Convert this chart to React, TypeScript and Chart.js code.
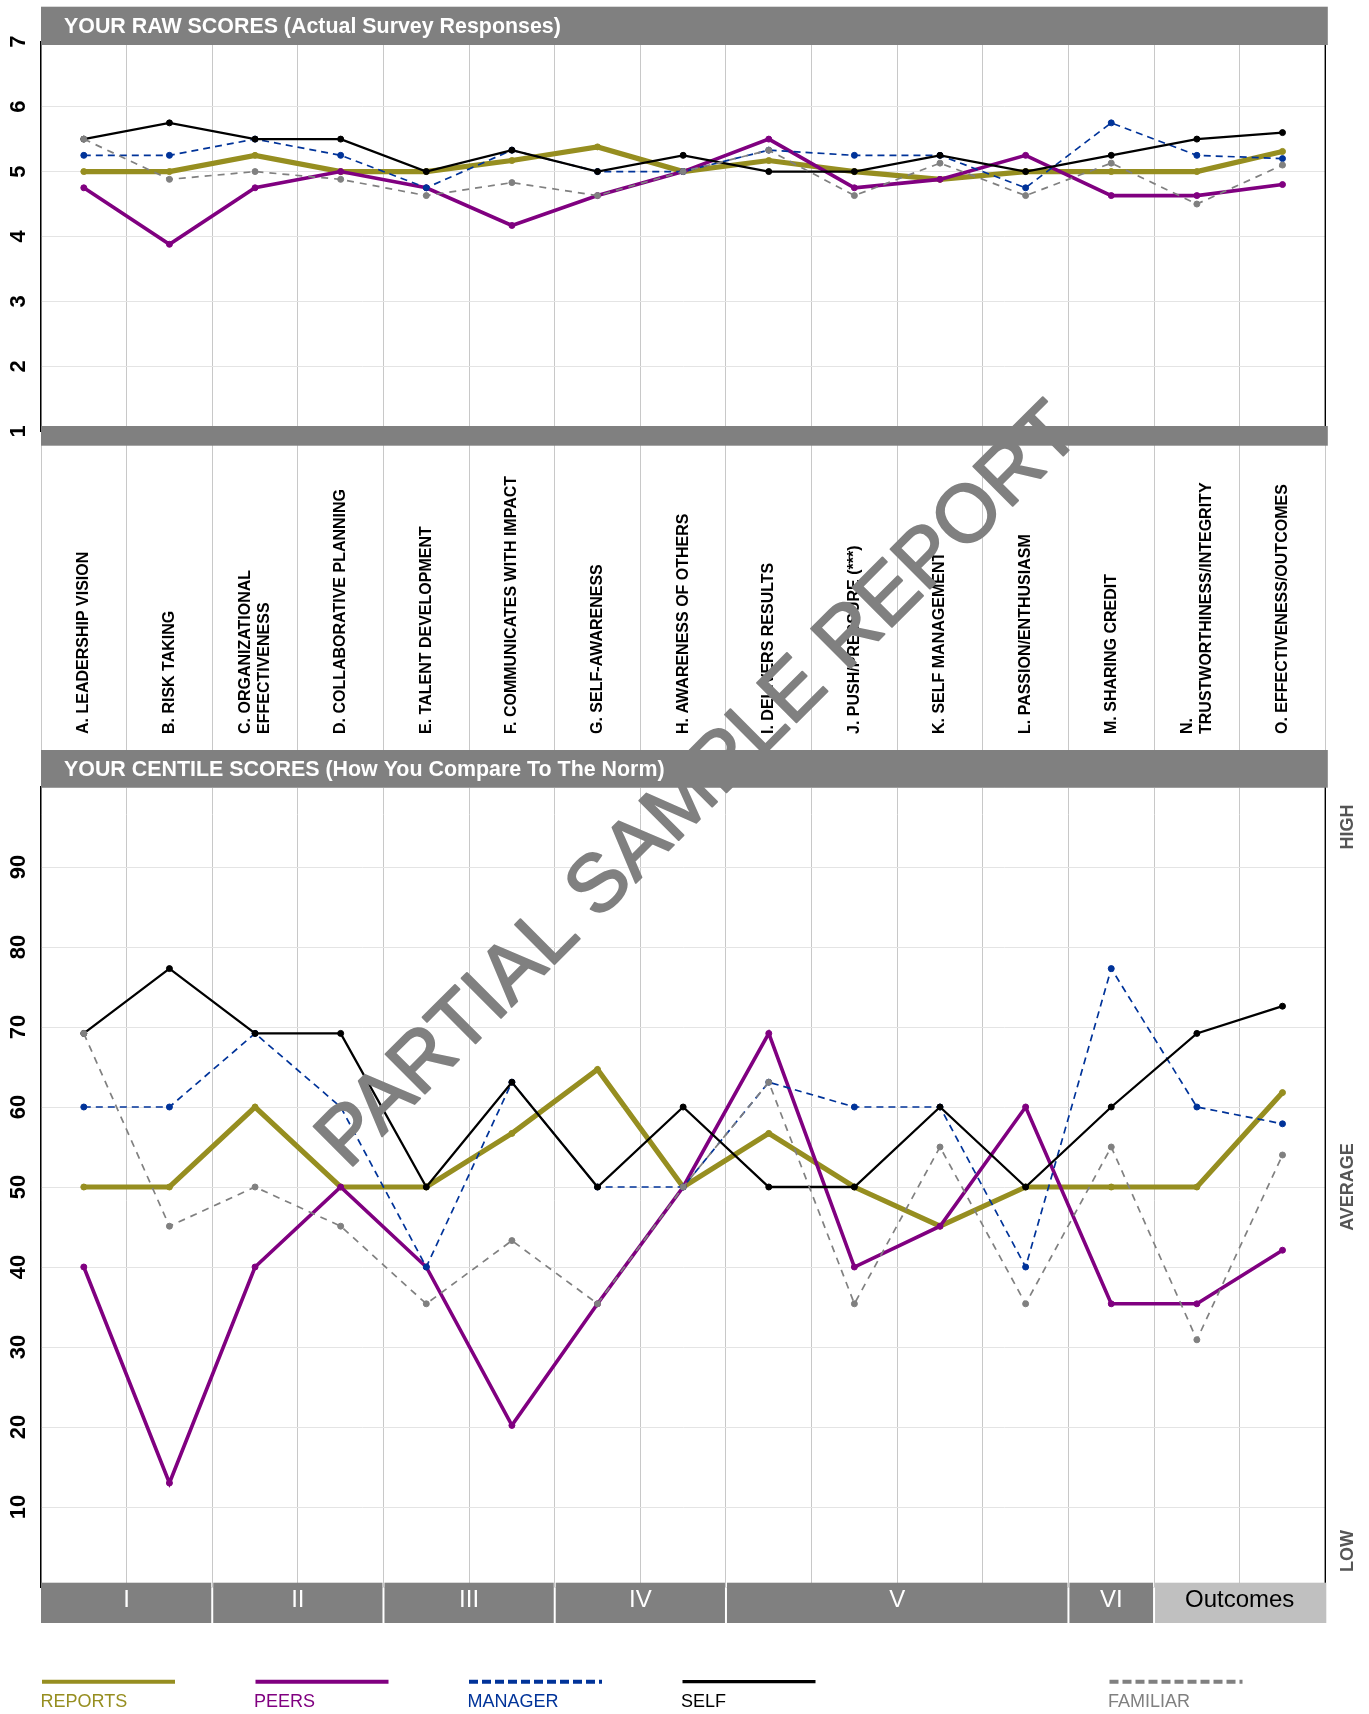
import React, { useEffect, useRef } from 'react';
import { Chart, registerables } from 'chart.js';

Chart.register(...registerables);

// ---------- data ----------
const CATEGORIES: string[][] = [
  ['A. LEADERSHIP VISION'],
  ['B. RISK TAKING'],
  ['C. ORGANIZATIONAL', 'EFFECTIVENESS'],
  ['D. COLLABORATIVE PLANNING'],
  ['E. TALENT DEVELOPMENT'],
  ['F. COMMUNICATES WITH IMPACT'],
  ['G. SELF-AWARENESS'],
  ['H. AWARENESS OF OTHERS'],
  ['I. DELIVERS RESULTS'],
  ['J. PUSH/PRESSURE (***)'],
  ['K. SELF MANAGEMENT'],
  ['L. PASSION/ENTHUSIASM'],
  ['M. SHARING CREDIT'],
  ['N.', 'TRUSTWORTHINESS/INTEGRITY'],
  ['O. EFFECTIVENESS/OUTCOMES'],
];

const REPORTS_RAW = [5, 5, 5.25, 5, 5, 5.17, 5.38, 5, 5.17, 5, 4.88, 5, 5, 5, 5.31];
const PEERS_RAW = [4.75, 3.88, 4.75, 5, 4.75, 4.17, 4.63, 5, 5.5, 4.75, 4.88, 5.25, 4.63, 4.63, 4.8];
const MANAGER_RAW = [5.25, 5.25, 5.5, 5.25, 4.75, 5.33, 5, 5, 5.33, 5.25, 5.25, 4.75, 5.75, 5.25, 5.2];
const SELF_RAW = [5.5, 5.75, 5.5, 5.5, 5, 5.33, 5, 5.25, 5, 5, 5.25, 5, 5.25, 5.5, 5.6];
const FAMILIAR_RAW = [5.5, 4.88, 5, 4.88, 4.63, 4.83, 4.63, 5, 5.33, 4.63, 5.13, 4.63, 5.13, 4.5, 5.1];

const REPORTS_CENT = [50, 50, 60, 50, 50, 56.7, 64.7, 50, 56.7, 50, 45.1, 50, 50, 50, 61.8];
const PEERS_CENT = [40, 13, 40, 50, 40, 20.2, 35.4, 50, 69.2, 40, 45.1, 60, 35.4, 35.4, 42.1];
const MANAGER_CENT = [60, 60, 69.2, 60, 40, 63.1, 50, 50, 63.1, 60, 60, 40, 77.3, 60, 57.9];
const SELF_CENT = [69.2, 77.3, 69.2, 69.2, 50, 63.1, 50, 60, 50, 50, 60, 50, 60, 69.2, 72.6];
const FAMILIAR_CENT = [69.2, 45.1, 50, 45.1, 35.4, 43.3, 35.4, 50, 63.1, 35.4, 55, 35.4, 55, 30.9, 54];

const SERIES_NAMES = ['REPORTS', 'PEERS', 'MANAGER', 'SELF', 'FAMILIAR'];
const RAW_SERIES = [REPORTS_RAW, PEERS_RAW, MANAGER_RAW, SELF_RAW, FAMILIAR_RAW];
const CENT_SERIES = [REPORTS_CENT, PEERS_CENT, MANAGER_CENT, SELF_CENT, FAMILIAR_CENT];

const RAW_TICK_LABELS = [1, 2, 3, 4, 5, 6, 7];
const CENT_TICK_LABELS = [10, 20, 30, 40, 50, 60, 70, 80, 90];

const GROUP_LABELS = ['I', 'II', 'III', 'IV', 'V', 'VI', 'Outcomes'];
const GROUP_SPANS = [2, 2, 2, 2, 4, 1, 2];

const RIGHT_LABELS = ['HIGH', 'AVERAGE', 'LOW'];
const RIGHT_LABEL_VALUES = [95, 50, 4.5];

const HEADER_RAW = 'YOUR RAW SCORES (Actual Survey Responses)';
const HEADER_CENT = 'YOUR CENTILE SCORES (How You Compare To The Norm)';
const WATERMARK = 'PARTIAL SAMPLE REPORT';

// ---------- styles ----------
const COLORS = ['#968E20', '#800080', '#003399', '#000000', '#808080'];
const WIDTHS = [5.2, 3.6, 1.7, 2.3, 1.7];
const DASHES: number[][] = [[], [], [7, 5], [], [7, 6]];
const LEGEND_SLOTS = [0, 1, 2, 3, 5];
const DRAW_ORDER = [4, 3, 2, 1, 0]; // first = on top

const FONT = '"Liberation Sans", Arial, Helvetica, sans-serif';
const BAR_GRAY = '#808080';

function rotText(ctx: CanvasRenderingContext2D, text: string, x: number, y: number, align: CanvasTextAlign) {
  ctx.save();
  ctx.translate(x, y);
  ctx.rotate(-Math.PI / 2);
  ctx.textAlign = align;
  ctx.textBaseline = 'middle';
  ctx.fillText(text, 0, 0);
  ctx.restore();
}

const decorPlugin = {
  id: 'decor',
  afterDraw(chart: any) {
    const { ctx, chartArea, scales } = chart;
    const xs = scales.x;
    const yR = scales.yRaw;
    const yC = scales.yCent;
    const n = CATEGORIES.length;
    const cw = (chartArea.right - chartArea.left) / n;
    const bound = (i: number) => xs.getPixelForValue(0) - cw / 2 + i * cw;
    const L = chartArea.left;
    const R = chartArea.right;

    ctx.save();
    // right borders of plot areas
    ctx.strokeStyle = '#000';
    ctx.lineWidth = 1.4;
    ctx.beginPath();
    ctx.moveTo(R, yR.getPixelForValue(7));
    ctx.lineTo(R, yR.getPixelForValue(1));
    ctx.moveTo(R, yC.getPixelForValue(100));
    ctx.lineTo(R, yC.getPixelForValue(0));
    ctx.stroke();

    // header bars
    ctx.fillStyle = BAR_GRAY;
    const y7 = yR.getPixelForValue(7);
    ctx.fillRect(L, y7 - 35, R + 2.5 - L, 38.3);
    const y1 = yR.getPixelForValue(1);
    ctx.fillRect(L, y1 - 5.3, R + 2.5 - L, 19.7);
    const y100 = yC.getPixelForValue(100);
    ctx.fillRect(L, y100 - 37, R + 2.5 - L, 37.7);

    ctx.fillStyle = '#ffffff';
    ctx.font = `bold 21.4px ${FONT}`;
    ctx.textAlign = 'left';
    ctx.textBaseline = 'alphabetic';
    ctx.fillText(HEADER_RAW, 64, y7 - 8.4);
    ctx.fillText(HEADER_CENT, 64, y100 - 11.5);

    // group bars at bottom
    const y0 = yC.getPixelForValue(0);
    let start = 0;
    GROUP_LABELS.forEach((lab, g) => {
      const end = start + GROUP_SPANS[g];
      const left = g === 0 ? bound(start) : bound(start) + 1;
      const right = g === GROUP_LABELS.length - 1 ? bound(end) + 1 : bound(end) - 1;
      const isOut = lab === 'Outcomes';
      ctx.fillStyle = isOut ? '#c0c0c0' : BAR_GRAY;
      ctx.fillRect(left, y0 - 4.3, right - left, 40.3);
      ctx.fillStyle = isOut ? '#000000' : '#ffffff';
      ctx.font = `24px ${FONT}`;
      ctx.textAlign = 'center';
      ctx.textBaseline = 'alphabetic';
      ctx.fillText(lab, (bound(start) + bound(end)) / 2, y0 + 20);
      start = end;
    });

    // y tick labels (rotated)
    ctx.fillStyle = '#000';
    ctx.font = `bold 22px ${FONT}`;
    RAW_TICK_LABELS.forEach((v) => rotText(ctx, String(v), 18.5, yR.getPixelForValue(v), 'center'));
    CENT_TICK_LABELS.forEach((v) => rotText(ctx, String(v), 18.5, yC.getPixelForValue(v), 'center'));

    // category labels
    ctx.font = `bold 16px ${FONT}`;
    ctx.fillStyle = '#000';
    CATEGORIES.forEach((lines, i) => {
      const cx = xs.getPixelForValue(i);
      lines.forEach((line, j) => {
        rotText(ctx, line, cx + (j - (lines.length - 1) / 2) * 18.5, 734, 'left');
      });
    });

    // right side labels
    ctx.font = `bold 18px ${FONT}`;
    ctx.fillStyle = '#555555';
    RIGHT_LABELS.forEach((lab, k) => rotText(ctx, lab, 1348.5, yC.getPixelForValue(RIGHT_LABEL_VALUES[k]), 'center'));

    // legend
    SERIES_NAMES.forEach((name, s) => {
      const x0 = 42 + LEGEND_SLOTS[s] * 213.5;
      ctx.save();
      ctx.strokeStyle = COLORS[s];
      ctx.lineWidth = s === 3 ? 3.2 : 4;
      ctx.setLineDash(DASHES[s].length ? [9, 4] : []);
      ctx.beginPath();
      ctx.moveTo(x0, 1681.7);
      ctx.lineTo(x0 + 133, 1681.7);
      ctx.stroke();
      ctx.restore();
      ctx.fillStyle = COLORS[s];
      ctx.font = `18px ${FONT}`;
      ctx.textAlign = 'left';
      ctx.textBaseline = 'alphabetic';
      ctx.fillText(name, x0 - 1.5, 1706.5);
    });

    // watermark
    ctx.save();
    ctx.translate(700, 787);
    ctx.rotate(-Math.PI / 4);
    ctx.fillStyle = '#808080';
    ctx.strokeStyle = '#808080';
    ctx.lineWidth = 2;
    ctx.lineJoin = 'round';
    ctx.font = `81px ${FONT}`;
    ctx.textAlign = 'center';
    ctx.textBaseline = 'middle';
    ctx.fillText(WATERMARK, 0, 0);
    ctx.strokeText(WATERMARK, 0, 0);
    ctx.restore();

    ctx.restore();
  },
};

export default function App() {
  const ref = useRef<HTMLCanvasElement | null>(null);

  useEffect(() => {
    if (!ref.current) return;
    const datasets: any[] = [];
    DRAW_ORDER.forEach((s) => {
      const common = {
        label: SERIES_NAMES[s],
        borderColor: COLORS[s],
        backgroundColor: COLORS[s],
        pointBackgroundColor: COLORS[s],
        pointBorderColor: COLORS[s],
        borderWidth: WIDTHS[s],
        borderDash: DASHES[s],
        pointRadius: 3,
        pointBorderWidth: 1,
        tension: 0,
        fill: false,
      };
      datasets.push({ ...common, data: RAW_SERIES[s], yAxisID: 'yRaw' });
      datasets.push({ ...common, data: CENT_SERIES[s], yAxisID: 'yCent' });
    });

    const chart = new Chart(ref.current, {
      type: 'line',
      data: { labels: CATEGORIES.map((c) => c.join(' ')), datasets },
      options: {
        responsive: false,
        animation: false,
        devicePixelRatio: 1,
        events: [],
        layout: { padding: { top: 41.7, bottom: 127, left: 0, right: 43.7 } },
        plugins: { legend: { display: false }, tooltip: { enabled: false } },
        scales: {
          x: {
            type: 'category',
            offset: true,
            grid: { offset: true, color: '#c8c8c8', lineWidth: 1, drawTicks: false },
            ticks: { display: false },
            border: { display: false },
            afterFit: (s: any) => { s.height = 0; },
          },
          yRaw: {
            type: 'linear',
            position: 'left',
            stack: 'main',
            stackWeight: 389.6,
            weight: 3,
            min: 1,
            max: 7,
            ticks: { stepSize: 1, display: false },
            grid: { color: '#e4e4e4', lineWidth: 1, drawTicks: false },
            border: { display: true, color: '#000', width: 1.4 },
            afterFit: (s: any) => { s.width = 41; },
          },
          yLab: {
            type: 'linear',
            position: 'left',
            stack: 'main',
            stackWeight: 355.7,
            weight: 2,
            min: 0,
            max: 1,
            ticks: { display: false },
            grid: { display: false },
            border: { display: false },
            afterFit: (s: any) => { s.width = 41; },
          },
          yCent: {
            type: 'linear',
            position: 'left',
            stack: 'main',
            stackWeight: 800,
            weight: 1,
            min: 0,
            max: 100,
            ticks: { stepSize: 10, display: false },
            grid: { color: '#e4e4e4', lineWidth: 1, drawTicks: false },
            border: { display: true, color: '#000', width: 1.4 },
            afterFit: (s: any) => { s.width = 41; },
          },
        },
      } as any,
      plugins: [decorPlugin],
    });
    return () => chart.destroy();
  }, []);

  return (
    <div style={{ position: 'absolute', left: 0, top: 0, width: 1369, height: 1714, background: '#fff' }}>
      <canvas ref={ref} width={1369} height={1714} style={{ width: 1369, height: 1714, display: 'block' }} />
    </div>
  );
}
